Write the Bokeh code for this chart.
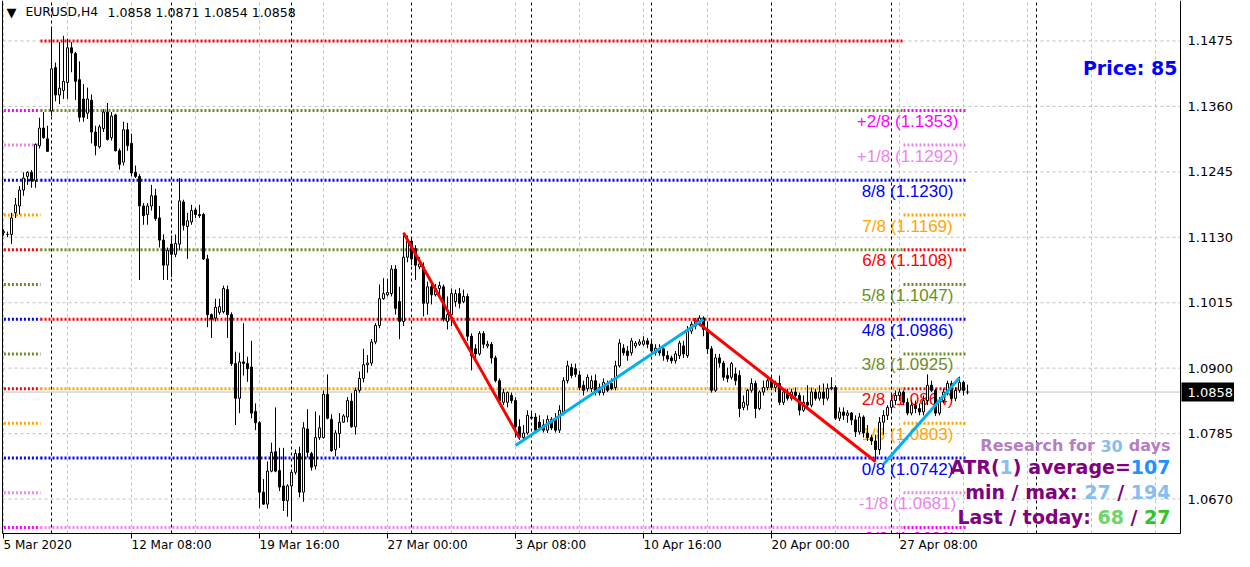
from bokeh.plotting import figure
from bokeh.models import ColumnDataSource, Range1d
from bokeh.core.properties import value
from bokeh.embed import file_html
from bokeh.resources import INLINE

# ---------------- data ----------------
symbol = "EURUSD,H4"
last_ohlc = "1.0858 1.0871 1.0854 1.0858"
current_price = 1.0858

opens = [
    1.1138, 1.1135, 1.1135, 1.1173, 1.1185, 1.1213, 1.1237, 1.1244, 1.1230, 1.1291,
    1.1322, 1.1303, 1.1352, 1.1428, 1.1380, 1.1388, 1.1402, 1.1463, 1.1453, 1.1407,
    1.1373, 1.1348, 1.1371, 1.1315, 1.1289, 1.1321, 1.1350, 1.1305, 1.1345, 1.1282,
    1.1262, 1.1319, 1.1295, 1.1244, 1.1237, 1.1185, 1.1170, 1.1185, 1.1203, 1.1164,
    1.1125, 1.1081, 1.1118, 1.1100, 1.1118, 1.1192, 1.1149, 1.1157, 1.1178, 1.1170,
    1.1170, 1.1092, 1.0994, 1.0988, 1.0998, 1.0999, 1.1038, 1.0994, 1.0908, 1.0847,
    1.0911, 1.0908, 1.0902, 1.0824, 1.0804, 1.0682, 1.0661, 1.0719, 1.0753, 1.0720,
    1.0693, 1.0667, 1.0693, 1.0717, 1.0750, 1.0682, 1.0793, 1.0750, 1.0728, 1.0778,
    1.0778, 1.0854, 1.0810, 1.0757, 1.0785, 1.0805, 1.0814, 1.0842, 1.0797, 1.0861,
    1.0882, 1.0906, 1.0909, 1.0946, 1.0975, 1.1022, 1.1029, 1.1031, 1.1074, 1.1017,
    1.0982, 1.1095, 1.1123, 1.1110, 1.1078, 1.1078, 1.1014, 1.1043, 1.1029, 1.1040,
    1.1043, 1.0982, 1.0994, 1.1017, 1.1031, 1.1017, 1.1026, 1.0956, 1.0934, 1.0925,
    1.0961, 1.0939, 1.0942, 1.0918, 1.0878, 1.0840, 1.0840, 1.0852, 1.0843, 1.0797,
    1.0778, 1.0786, 1.0814, 1.0814, 1.0805, 1.0800, 1.0791, 1.0810, 1.0810, 1.0791,
    1.0823, 1.0878, 1.0901, 1.0899, 1.0888, 1.0870, 1.0864, 1.0864, 1.0878, 1.0866,
    1.0857, 1.0870, 1.0873, 1.0866, 1.0904, 1.0935, 1.0930, 1.0927, 1.0939, 1.0942,
    1.0942, 1.0948, 1.0942, 1.0927, 1.0934, 1.0934, 1.0922, 1.0918, 1.0913, 1.0922,
    1.0939, 1.0922, 1.0965, 1.0974, 1.0980, 1.0988, 1.0968, 1.0934, 1.0861, 1.0918,
    1.0909, 1.0887, 1.0884, 1.0890, 1.0887, 1.0831, 1.0835, 1.0861, 1.0873, 1.0829,
    1.0858, 1.0866, 1.0878, 1.0866, 1.0873, 1.0840, 1.0858, 1.0847, 1.0858, 1.0852,
    1.0826, 1.0840, 1.0835, 1.0858, 1.0847, 1.0858, 1.0847, 1.0864, 1.0866, 1.0812,
    1.0823, 1.0817, 1.0821, 1.0809, 1.0788, 1.0814, 1.0786, 1.0778, 1.0772, 1.0757,
    1.0805, 1.0817, 1.0831, 1.0843, 1.0852, 1.0858, 1.0840, 1.0821, 1.0835, 1.0829,
    1.0823, 1.0843, 1.0870, 1.0861, 1.0821, 1.0843, 1.0858, 1.0873, 1.0847, 1.0861,
    1.0875, 1.0858,
]
highs = [
    1.1144, 1.1140, 1.1173, 1.1199, 1.1220, 1.1244, 1.1246, 1.1248, 1.1295, 1.1340,
    1.1350, 1.1326, 1.1499, 1.1437, 1.1473, 1.1484, 1.1479, 1.1473, 1.1456, 1.1439,
    1.1399, 1.1393, 1.1381, 1.1326, 1.1328, 1.1355, 1.1366, 1.1350, 1.1347, 1.1286,
    1.1333, 1.1331, 1.1312, 1.1256, 1.1241, 1.1190, 1.1190, 1.1222, 1.1215, 1.1185,
    1.1135, 1.1112, 1.1133, 1.1135, 1.1234, 1.1196, 1.1173, 1.1187, 1.1182, 1.1187,
    1.1173, 1.1099, 1.0996, 1.1022, 1.1022, 1.1045, 1.1045, 1.0998, 1.0929, 1.0927,
    1.0979, 1.0920, 1.0948, 1.0838, 1.0807, 1.0705, 1.0736, 1.0769, 1.0831, 1.0760,
    1.0760, 1.0696, 1.0722, 1.0757, 1.0762, 1.0805, 1.0828, 1.0753, 1.0824, 1.0817,
    1.0861, 1.0889, 1.0819, 1.0791, 1.0821, 1.0819, 1.0849, 1.0856, 1.0866, 1.0894,
    1.0934, 1.0923, 1.0951, 1.0979, 1.1047, 1.1058, 1.1057, 1.1081, 1.1081, 1.1043,
    1.1138, 1.1133, 1.1130, 1.1116, 1.1095, 1.1086, 1.1052, 1.1052, 1.1048, 1.1052,
    1.1047, 1.1026, 1.1040, 1.1038, 1.1041, 1.1038, 1.1031, 1.0961, 1.0942, 1.0965,
    1.0965, 1.0948, 1.0946, 1.0922, 1.0882, 1.0864, 1.0859, 1.0857, 1.0849, 1.0810,
    1.0800, 1.0826, 1.0821, 1.0821, 1.0817, 1.0810, 1.0817, 1.0814, 1.0821, 1.0835,
    1.0884, 1.0913, 1.0908, 1.0908, 1.0895, 1.0878, 1.0889, 1.0887, 1.0889, 1.0873,
    1.0882, 1.0878, 1.0882, 1.0913, 1.0951, 1.0942, 1.0939, 1.0953, 1.0948, 1.0951,
    1.0956, 1.0953, 1.0948, 1.0942, 1.0942, 1.0939, 1.0930, 1.0922, 1.0930, 1.0948,
    1.0948, 1.0974, 1.0982, 1.0988, 1.0993, 1.0991, 1.0982, 1.0939, 1.0925, 1.0925,
    1.0913, 1.0901, 1.0911, 1.0901, 1.0896, 1.0852, 1.0864, 1.0882, 1.0878, 1.0861,
    1.0878, 1.0882, 1.0887, 1.0878, 1.0887, 1.0861, 1.0864, 1.0864, 1.0866, 1.0857,
    1.0852, 1.0870, 1.0866, 1.0864, 1.0870, 1.0873, 1.0873, 1.0884, 1.0870, 1.0831,
    1.0831, 1.0826, 1.0823, 1.0817, 1.0821, 1.0817, 1.0800, 1.0783, 1.0783, 1.0814,
    1.0826, 1.0835, 1.0857, 1.0861, 1.0864, 1.0861, 1.0847, 1.0843, 1.0843, 1.0838,
    1.0852, 1.0889, 1.0878, 1.0864, 1.0849, 1.0864, 1.0878, 1.0878, 1.0866, 1.0885,
    1.0878, 1.0871,
]
lows = [
    1.1133, 1.1130, 1.1118, 1.1164, 1.1170, 1.1203, 1.1222, 1.1217, 1.1217, 1.1286,
    1.1303, 1.1281, 1.1343, 1.1369, 1.1364, 1.1373, 1.1373, 1.1420, 1.1371, 1.1333,
    1.1333, 1.1338, 1.1295, 1.1274, 1.1286, 1.1315, 1.1300, 1.1300, 1.1281, 1.1249,
    1.1256, 1.1282, 1.1237, 1.1234, 1.1055, 1.1152, 1.1152, 1.1177, 1.1159, 1.1112,
    1.1055, 1.1055, 1.1060, 1.1095, 1.1107, 1.1142, 1.1092, 1.1152, 1.1164, 1.1164,
    1.1090, 1.0972, 1.0953, 1.0982, 1.0994, 1.0996, 1.0953, 1.0904, 1.0800, 1.0821,
    1.0887, 1.0876, 1.0812, 1.0791, 1.0654, 1.0660, 1.0653, 1.0717, 1.0717, 1.0684,
    1.0649, 1.0639, 1.0632, 1.0713, 1.0673, 1.0665, 1.0743, 1.0720, 1.0722, 1.0774,
    1.0776, 1.0810, 1.0753, 1.0745, 1.0760, 1.0804, 1.0805, 1.0795, 1.0783, 1.0857,
    1.0875, 1.0892, 1.0904, 1.0942, 1.0970, 1.1020, 1.1026, 1.1026, 1.0994, 1.0951,
    1.0974, 1.1086, 1.1081, 1.1055, 1.1074, 1.0991, 1.0994, 1.1012, 1.1026, 1.1026,
    1.0982, 1.0968, 1.0974, 1.1008, 1.1005, 1.1014, 1.0948, 1.0896, 1.0916, 1.0922,
    1.0935, 1.0935, 1.0908, 1.0875, 1.0840, 1.0835, 1.0831, 1.0838, 1.0778, 1.0774,
    1.0772, 1.0783, 1.0809, 1.0787, 1.0791, 1.0787, 1.0786, 1.0791, 1.0787, 1.0786,
    1.0817, 1.0873, 1.0882, 1.0884, 1.0861, 1.0852, 1.0859, 1.0858, 1.0852, 1.0852,
    1.0852, 1.0858, 1.0861, 1.0861, 1.0901, 1.0922, 1.0913, 1.0922, 1.0935, 1.0939,
    1.0939, 1.0935, 1.0927, 1.0922, 1.0922, 1.0913, 1.0911, 1.0908, 1.0908, 1.0916,
    1.0918, 1.0918, 1.0960, 1.0968, 1.0974, 1.0956, 1.0925, 1.0857, 1.0858, 1.0901,
    1.0878, 1.0875, 1.0880, 1.0870, 1.0814, 1.0826, 1.0826, 1.0857, 1.0812, 1.0826,
    1.0852, 1.0861, 1.0861, 1.0858, 1.0835, 1.0835, 1.0843, 1.0843, 1.0843, 1.0817,
    1.0823, 1.0829, 1.0831, 1.0843, 1.0843, 1.0835, 1.0843, 1.0861, 1.0809, 1.0807,
    1.0809, 1.0804, 1.0800, 1.0779, 1.0783, 1.0778, 1.0772, 1.0765, 1.0736, 1.0748,
    1.0783, 1.0809, 1.0821, 1.0835, 1.0843, 1.0835, 1.0817, 1.0817, 1.0821, 1.0817,
    1.0817, 1.0835, 1.0858, 1.0816, 1.0817, 1.0838, 1.0852, 1.0843, 1.0842, 1.0857,
    1.0852, 1.0854,
]
closes = [
    1.1140, 1.1135, 1.1164, 1.1187, 1.1213, 1.1234, 1.1244, 1.1229, 1.1293, 1.1322,
    1.1305, 1.1281, 1.1426, 1.1380, 1.1392, 1.1404, 1.1463, 1.1454, 1.1404, 1.1341,
    1.1341, 1.1373, 1.1315, 1.1291, 1.1324, 1.1350, 1.1302, 1.1343, 1.1282, 1.1258,
    1.1319, 1.1291, 1.1243, 1.1237, 1.1185, 1.1168, 1.1185, 1.1203, 1.1163, 1.1125,
    1.1081, 1.1107, 1.1100, 1.1119, 1.1194, 1.1151, 1.1159, 1.1177, 1.1170, 1.1168,
    1.1092, 1.0994, 1.0986, 1.1007, 1.1008, 1.1040, 1.0994, 1.0908, 1.0847, 1.0911,
    1.0908, 1.0899, 1.0821, 1.0804, 1.0682, 1.0661, 1.0719, 1.0752, 1.0719, 1.0691,
    1.0667, 1.0693, 1.0717, 1.0750, 1.0682, 1.0795, 1.0752, 1.0726, 1.0778, 1.0795,
    1.0854, 1.0812, 1.0755, 1.0786, 1.0805, 1.0816, 1.0843, 1.0797, 1.0861, 1.0882,
    1.0906, 1.0909, 1.0946, 1.0975, 1.1022, 1.1031, 1.1033, 1.1074, 1.1005, 1.0982,
    1.1095, 1.1123, 1.1092, 1.1081, 1.1083, 1.1014, 1.1043, 1.1029, 1.1040, 1.1045,
    1.0986, 1.0994, 1.1031, 1.1031, 1.1014, 1.1026, 1.0956, 1.0922, 1.0925, 1.0961,
    1.0942, 1.0942, 1.0918, 1.0878, 1.0843, 1.0857, 1.0857, 1.0843, 1.0797, 1.0779,
    1.0786, 1.0817, 1.0812, 1.0791, 1.0795, 1.0791, 1.0810, 1.0795, 1.0791, 1.0826,
    1.0878, 1.0904, 1.0887, 1.0889, 1.0866, 1.0861, 1.0884, 1.0878, 1.0858, 1.0857,
    1.0875, 1.0861, 1.0864, 1.0904, 1.0944, 1.0927, 1.0922, 1.0948, 1.0944, 1.0946,
    1.0948, 1.0942, 1.0930, 1.0935, 1.0927, 1.0922, 1.0916, 1.0913, 1.0925, 1.0944,
    1.0925, 1.0965, 1.0977, 1.0982, 1.0988, 1.0968, 1.0934, 1.0861, 1.0918, 1.0909,
    1.0884, 1.0882, 1.0908, 1.0878, 1.0829, 1.0840, 1.0861, 1.0873, 1.0829, 1.0858,
    1.0866, 1.0878, 1.0866, 1.0873, 1.0840, 1.0858, 1.0847, 1.0858, 1.0852, 1.0826,
    1.0840, 1.0835, 1.0858, 1.0847, 1.0858, 1.0847, 1.0864, 1.0866, 1.0812, 1.0823,
    1.0817, 1.0821, 1.0809, 1.0788, 1.0814, 1.0786, 1.0778, 1.0772, 1.0757, 1.0805,
    1.0817, 1.0831, 1.0843, 1.0852, 1.0858, 1.0840, 1.0821, 1.0835, 1.0829, 1.0823,
    1.0843, 1.0870, 1.0861, 1.0821, 1.0843, 1.0858, 1.0873, 1.0847, 1.0861, 1.0875,
    1.0861, 1.0858,
]

# time axis (bar index -> label)
x_tick_bars = [0, 32, 64, 96, 128, 160, 192, 224]
x_tick_labels = ["5 Mar 2020", "12 Mar 08:00", "19 Mar 16:00", "27 Mar 00:00",
                 "3 Apr 08:00", "10 Apr 16:00", "20 Apr 00:00", "27 Apr 08:00"]
grid_bars = [0, 16, 32, 48, 64, 80, 96, 112, 128, 144, 160, 176, 192, 208, 224,
             240, 256, 272, 288]
week_separators = [12, 42, 72, 102, 132, 162, 192, 222, 258.25]
y_ticks = [1.0670, 1.0785, 1.0900, 1.1015, 1.1130, 1.1245, 1.1360, 1.1475]

# Murrey math levels (current frame)
mm_labels = ["+2/8", "+1/8", "8/8", "7/8", "6/8", "5/8", "4/8", "3/8", "2/8",
             "1/8", "0/8", "-1/8", "-2/8"]
mm_prices = [1.1353, 1.1292, 1.1230, 1.1169, 1.1108, 1.1047, 1.0986, 1.0925,
             1.0864, 1.0803, 1.0742, 1.0681, 1.0620]
mm_colors = ["#FF00FF", "#EE82EE", "#0000FF", "#FFA500", "#FF0000", "#6B8E23",
             "#0000FF", "#6B8E23", "#FF0000", "#FFA500", "#0000FF", "#EE82EE", "#FF00FF"]
# wider (previous) frame levels
prev_prices = [1.1475, 1.1353, 1.1230, 1.1108, 1.0986, 1.0864, 1.0742, 1.0620]
prev_colors = ["#FF0000", "#6B8E23", "#0000FF", "#6B8E23", "#FF0000", "#FFA500",
               "#0000FF", "#EE82EE"]
mm_old_span = (0.1, 9.25)
prev_span = (9.25, 225.0)
mm_new_span = (225.0, 241.0)

# zigzag legs (bar, price)
zz_down = [([100, 129], [1.1138, 1.0777]), ([172.5, 218], [1.0986, 1.0736])]
zz_up = [([128, 175], [1.0764, 1.0986]), ([220, 239], [1.0731, 1.0883])]

# info panel values
price_value = 85
research_days = 30
atr_period = 1
atr_average = 107
atr_min, atr_max = 27, 194
atr_last, atr_today = 68, 27

# ---------------- layout (screen geometry) ----------------
FIG_W, FIG_H = 1234, 551
PX_PER_BAR = 4.0
x_lo = -0.75                       # canvas px 0
x_hi = x_lo + FIG_W / PX_PER_BAR
y_hi = 1.15461                     # canvas top
axis_price = 1.06094               # price at the time-axis line
AXIS_PX = 533                      # canvas y of the time-axis line
PX_PER_PRICE = AXIS_PX / (y_hi - axis_price)
y_lo = y_hi - FIG_H / PX_PER_PRICE
chart_left = -0.25
chart_right = 294.25
REF_SCALE = AXIS_PX / 540.0        # reference picture y -> canvas y


def bx(px):          # canvas x (px) -> bar coordinate
    return x_lo + px / PX_PER_BAR


def py(ref_y):       # reference y (px) -> price coordinate
    return y_hi - ref_y * REF_SCALE / PX_PER_PRICE


p = figure(width=FIG_W, height=FIG_H, output_backend="svg", toolbar_location=None,
           x_range=Range1d(x_lo, x_hi), y_range=Range1d(y_lo, y_hi),
           x_axis_location=None, y_axis_location=None, min_border=0,
           background_fill_color="white", border_fill_color="white")
p.outline_line_color = None
p.xgrid.visible = False
p.ygrid.visible = False

GRID = "#C0C0C0"
# grid
p.segment(x0=grid_bars, x1=grid_bars, y0=[axis_price] * len(grid_bars),
          y1=[y_hi] * len(grid_bars), line_color=GRID, line_dash="3 3", line_width=1)
p.segment(x0=[chart_left] * len(y_ticks), x1=[chart_right] * len(y_ticks),
          y0=y_ticks, y1=y_ticks, line_color=GRID, line_dash="3 3", line_width=1)
# weekly separators
p.segment(x0=week_separators, x1=week_separators, y0=[axis_price] * len(week_separators),
          y1=[y_hi] * len(week_separators), line_color="black", line_dash="3 3", line_width=1)
# current price line
p.segment(x0=[chart_left], x1=[chart_right], y0=[current_price], y1=[current_price],
          line_color=GRID, line_width=1)

# Murrey lines
DOT = "2 2"
nm = len(mm_prices)
p.segment(x0=[mm_old_span[0]] * nm, x1=[mm_old_span[1]] * nm,
          y0=mm_prices, y1=mm_prices, line_color=mm_colors, line_width=3, line_dash=DOT)
p.segment(x0=[prev_span[0]] * len(prev_prices), x1=[prev_span[1]] * len(prev_prices),
          y0=prev_prices, y1=prev_prices, line_color=prev_colors, line_width=3, line_dash=DOT)
p.segment(x0=[mm_new_span[0]] * nm, x1=[mm_new_span[1]] * nm,
          y0=mm_prices, y1=mm_prices, line_color=mm_colors, line_width=3, line_dash=DOT)

mm_texts = [f"{l} ({v:.4f})" for l, v in zip(mm_labels, mm_prices)]
p.text(x=[bx(907)] * nm, y=mm_prices, text=mm_texts,
       text_color=mm_colors, text_align="center", text_baseline="middle",
       y_offset=11, text_font=value("Liberation Sans"), text_font_size=value("17px"))

# candles
bars = list(range(len(closes)))
src = ColumnDataSource(dict(
    x=bars, o=opens, h=highs, l=lows, c=closes,
    top=[max(o, c) for o, c in zip(opens, closes)],
    bot=[min(o, c) for o, c in zip(opens, closes)],
    fill=["white" if c >= o else "black" for o, c in zip(opens, closes)],
))
p.segment(x0="x", y0="l", x1="x", y1="h", source=src, line_color="black", line_width=1)
p.vbar(x="x", width=0.5, top="top", bottom="bot", source=src, fill_color="fill",
       line_color="black", line_width=1)

# zigzag
for xs, ys in zz_down:
    p.line(xs, ys, line_color="#FF0000", line_width=3)
for xs, ys in zz_up:
    p.line(xs, ys, line_color="#00B0F0", line_width=3)

# header
hdr_y = py(12)
p.text(x=[bx(6)], y=[hdr_y], text=["\u25BC"], text_align="left", text_baseline="middle",
       text_font=value("DejaVu Sans"), text_font_size=value("13px"), text_color="black")
p.text(x=[bx(25)], y=[hdr_y], text=[symbol], text_align="left", text_baseline="middle",
       text_font=value("DejaVu Sans"), text_font_size=value("12.3px"), text_color="black")
p.text(x=[bx(107)], y=[hdr_y], text=[last_ohlc], text_align="left", text_baseline="middle",
       text_font=value("DejaVu Sans"), text_font_size=value("12.6px"), text_color="black")

# Price label
p.text(x=[bx(1177)], y=[py(68)], text=[f"Price: {price_value}"], text_align="right",
       text_baseline="middle", text_font=value("DejaVu Sans"), text_font_style="bold",
       text_font_size=value("19px"), text_color="#0000FF")

# info block (multi coloured, right aligned)
W = {' ': 0.348, '\u00A0': 0.348, '(': 0.457, ')': 0.457, '/': 0.365, ':': 0.400,
     '=': 0.838, '.': 0.380, 'A': 0.774, 'L': 0.637, 'R': 0.770, 'T': 0.682, 'P': 0.733,
     'a': 0.675, 'c': 0.593, 'd': 0.716, 'e': 0.678, 'f': 0.435, 'g': 0.716, 'h': 0.712,
     'i': 0.343, 'm': 1.042, 'n': 0.712, 'o': 0.687, 'r': 0.493, 's': 0.595, 't': 0.478,
     'v': 0.652, 'x': 0.663, 'y': 0.652}
for d in "0123456789":
    W[d] = 0.696


def tw(s, size):
    return sum(W.get(ch, 0.65) for ch in s) * size


NB = "\u00A0"
PURPLE = "#800080"
PLUM = "#B57EC2"
LBLUE = "#87BEF0"
info_lines = [
    (py(451), 16, [("Research" + NB + "for" + NB, PLUM), (str(research_days), LBLUE),
                   (NB + "days", PLUM)]),
    (py(473), 19, [("ATR(", PURPLE), (str(atr_period), LBLUE),
                   (")" + NB + "average=", PURPLE), (str(atr_average), "#1E90FF")]),
    (py(498), 19, [("min" + NB + "/" + NB + "max:" + NB, PURPLE), (str(atr_min), LBLUE),
                   (NB + "/" + NB, PURPLE), (str(atr_max), LBLUE)]),
    (py(523), 19, [("Last" + NB + "/" + NB + "today:" + NB, PURPLE), (str(atr_last), "#6CD66C"),
                   (NB + "/" + NB, PURPLE), (str(atr_today), "#2EC42E")]),
]
info_right = bx(1170)
for yv, size, segs in info_lines:
    off = 0.0
    for txt, col in reversed(segs):
        p.text(x=[info_right], y=[yv], text=[txt], text_align="right", text_baseline="middle",
               x_offset=-off, text_font=value("DejaVu Sans"), text_font_style="bold",
               text_font_size=value(f"{size}px"), text_color=col)
        off += tw(txt, size)

# cover outside the chart area (clips the lowest level label at the time axis)
p.quad(left=[x_lo], right=[x_hi], bottom=[y_lo], top=[axis_price],
       fill_color="white", line_color=None)
p.quad(left=[chart_right], right=[x_hi], bottom=[y_lo], top=[y_hi],
       fill_color="white", line_color=None)

# axis lines / border
p.segment(x0=[chart_left, chart_right, chart_left], x1=[chart_right, chart_right, chart_left],
          y0=[axis_price, axis_price, axis_price], y1=[axis_price, y_hi, y_hi],
          line_color="black", line_width=1)

# time axis ticks and labels
tick_len = 5 / PX_PER_PRICE
p.segment(x0=x_tick_bars, x1=x_tick_bars, y0=[axis_price] * len(x_tick_bars),
          y1=[axis_price - tick_len] * len(x_tick_bars), line_color="black", line_width=1)
p.text(x=x_tick_bars, y=[axis_price] * len(x_tick_bars), text=x_tick_labels,
       text_align="left", text_baseline="middle", y_offset=11,
       text_font=value("DejaVu Sans"), text_font_size=value("12px"), text_color="black")

# price scale labels
p.text(x=[chart_right] * len(y_ticks), y=y_ticks, text=[f"{v:.4f}" for v in y_ticks],
       text_align="left", text_baseline="middle", x_offset=7,
       text_font=value("DejaVu Sans"), text_font_size=value("13px"), text_color="black")

# current price box on the price scale
half_box = 9.5 / PX_PER_PRICE
p.quad(left=[chart_right + 0.25], right=[x_hi], bottom=[current_price - half_box],
       top=[current_price + half_box], fill_color="black", line_color=None)
p.text(x=[chart_right], y=[current_price], text=[f"{current_price:.4f}"],
       text_align="left", text_baseline="middle", x_offset=7,
       text_font=value("DejaVu Sans"), text_font_size=value("13px"), text_color="white")

open("out.html", "w").write(file_html(p, INLINE))
